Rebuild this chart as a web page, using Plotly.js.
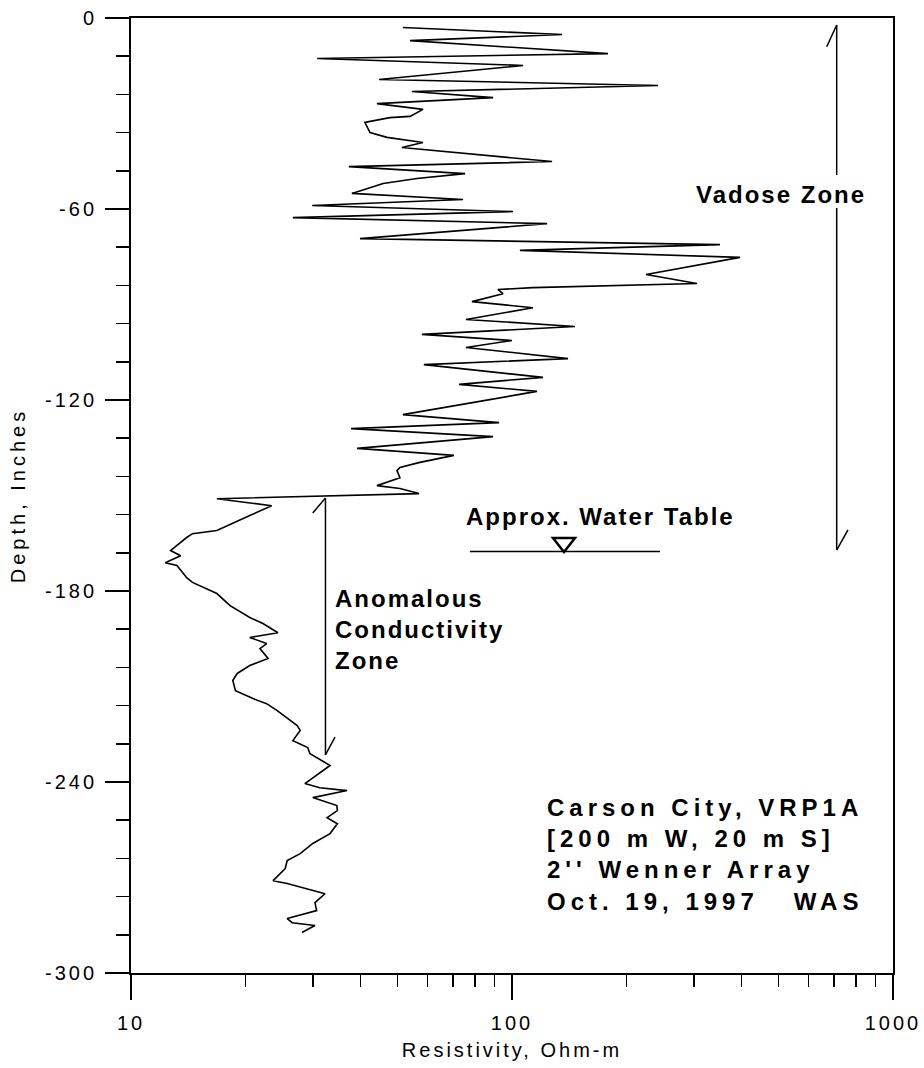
<!DOCTYPE html>
<html><head><meta charset="utf-8">
<script src="https://cdn.plot.ly/plotly-3.0.1.min.js"></script>
<style>html,body{margin:0;padding:0;background:#fff}</style>
</head><body><div id="chart" style="width:924px;height:1068px"></div>
<script>
// Resistivity (Ohm-m) vs depth (inches)
const resistivity = [
 51.7,135.3,54.0,178.6,30.8,106.9,44.8,241.6,54.6,89.2,
 44.2,58.4,54.0,47.8,41.1,42.4,47.0,55.0,58.4,51.4,
 127.4,37.3,75.3,56.3,45.9,38.0,74.4,29.9,100.6,26.6,
 123.6,39.9,351.5,104.9,396.7,224.8,305.9,113.5,91.9,94.7,
 78.5,113.5,75.7,146.3,58.0,100.0,75.7,140.3,58.7,120.6,
 72.6,116.3,51.7,92.5,37.8,89.2,39.2,70.4,57.3,50.8,
 49.9,50.8,44.2,50.8,57.0,16.8,23.4,20.5,18.5,16.8,
 14.5,14.0,13.2,12.7,13.5,12.3,13.2,13.6,14.0,14.5,
 16.8,18.2,20.5,22.2,24.3,20.5,22.7,21.8,22.9,20.5,
 19.0,18.5,18.8,20.9,22.7,24.2,25.7,27.3,27.8,26.6,
 29.1,29.5,33.3,28.6,31.3,36.9,30.0,34.7,34.8,32.7,
 34.8,33.3,30.0,27.8,25.7,25.4,23.6,25.7,32.3,30.4,
 30.7,25.7,26.5,30.4,28.1
];
const depth = [
 -3.0,-5.2,-7.1,-11.2,-12.7,-14.9,-19.3,-21.2,-23.1,-25.0,
 -26.9,-28.7,-30.9,-31.3,-32.8,-36.0,-37.5,-38.5,-39.1,-40.7,
 -45.1,-46.7,-48.9,-50.4,-52.0,-55.1,-57.0,-58.9,-60.8,-62.7,
 -64.6,-69.3,-71.2,-73.0,-75.2,-80.6,-83.4,-84.7,-85.3,-86.6,
 -89.1,-91.0,-94.7,-96.9,-99.4,-101.3,-103.5,-107.0,-108.9,-112.9,
 -115.1,-117.3,-124.6,-127.1,-129.0,-131.5,-135.2,-137.4,-139.6,-141.2,
 -142.2,-144.4,-146.9,-147.8,-149.4,-151.0,-153.2,-156.3,-158.8,-161.0,
 -162.0,-163.2,-165.7,-167.3,-168.9,-171.1,-172.0,-173.9,-175.8,-177.3,
 -180.8,-184.6,-188.3,-190.2,-193.1,-194.6,-196.5,-198.1,-201.2,-203.4,
 -205.9,-208.1,-211.3,-213.8,-215.4,-217.6,-219.8,-222.3,-223.8,-227.0,
 -229.2,-231.1,-234.8,-240.5,-241.8,-242.7,-244.9,-247.4,-249.0,-251.2,
 -253.1,-256.2,-259.3,-262.5,-264.7,-267.2,-271.0,-271.9,-275.1,-277.9,
 -280.4,-282.9,-284.2,-285.1,-287.3
];
const xTickVals = [10, 100, 1000];
const xTickLabels = ['10', '100', '1000'];
const xMinorVals = [20,30,40,50,60,70,80,90,200,300,400,500,600,700,800,900];
const yTickVals = [0, -60, -120, -180, -240, -300];
const yTickLabels = ['0', '-60', '-120', '-180', '-240', '-300'];
const xTitle = 'Resistivity, Ohm-m';
const yTitle = 'Depth, Inches';
const vadoseLabel = 'Vadose Zone';
const waterLabel = 'Approx. Water Table';
const anomalousLines = ['Anomalous', 'Conductivity', 'Zone'];
const infoLines = ['Carson City, VRP1A', '[200 m W, 20 m S]', '2\'\' Wenner Array', 'Oct. 19, 1997\u00a0\u00a0\u00a0WAS'];

const sp = (t, ls) => '<span style="letter-spacing:' + ls + 'px">' + t + '</span>';
const FAM = 'Liberation Sans, Arial, sans-serif';
const black = '#000';

const trace = {
  x: resistivity, y: depth, type: 'scatter', mode: 'lines',
  line: {color: black, width: 1.6}, hoverinfo: 'skip', showlegend: false
};
// empty trace so the overlaying minor-tick axis gets drawn
const minorAxisTrace = {x: [], y: [], xaxis: 'x2', yaxis: 'y', type: 'scatter', mode: 'lines',
  showlegend: false, hoverinfo: 'skip'};

const ln = (x0, y0, x1, y1, w) => ({type: 'line', xref: 'paper', yref: 'paper',
  x0: x0, y0: y0, x1: x1, y1: y1, line: {color: black, width: w || 1.5}});

const shapes = [
  ln(0.9261, 0.9927, 0.9261, 0.8356),
  ln(0.9261, 0.8010, 0.9261, 0.4429),
  ln(0.9261, 0.9927, 0.9130, 0.9699),
  ln(0.9261, 0.4429, 0.9409, 0.4639),
  ln(0.2552, 0.4974, 0.2552, 0.2283),
  ln(0.2552, 0.4974, 0.2385, 0.4817),
  ln(0.2552, 0.2283, 0.2677, 0.2471),
  ln(0.4449, 0.4414, 0.6942, 0.4414),
  {type: 'path', xref: 'paper', yref: 'paper',
   path: 'M0.5538,0.4555 L0.5827,0.4555 L0.5682,0.4408 Z',
   line: {color: black, width: 2.5}}
];

const boldFont = {family: FAM, size: 24, color: black, weight: 'bold'};
const annotations = [
  {xref: 'paper', yref: 'paper', x: 0.8524, y: 0.8157, xanchor: 'center', yanchor: 'middle',
   text: sp(vadoseLabel, 2), showarrow: false, font: boldFont},
  {xref: 'paper', yref: 'paper', x: 0.6155, y: 0.4775, xanchor: 'center', yanchor: 'middle',
   text: sp(waterLabel, 2), showarrow: false, font: boldFont},
  {xref: 'paper', yref: 'paper', x: 0.2651, y: 0.3592, xanchor: 'left', yanchor: 'middle', align: 'left',
   text: anomalousLines.map(t => sp(t, 2)).join('<br>'), showarrow: false, font: boldFont},
  {xref: 'paper', yref: 'paper', x: 0.5433, y: 0.1236, xanchor: 'left', yanchor: 'middle', align: 'left',
   text: infoLines.map(t => sp(t, 5)).join('<br>'), showarrow: false, font: boldFont}
];

const axisCommon = {
  showline: true, linewidth: 2, linecolor: black, mirror: true,
  showgrid: false, zeroline: false, ticks: 'outside', tickcolor: black, tickwidth: 1.5,
  tickfont: {family: FAM, size: 20, color: black}
};

const layout = {
  width: 924, height: 1068,
  margin: {l: 131, r: 31, t: 18, b: 95},
  paper_bgcolor: '#fff', plot_bgcolor: '#fff',
  showlegend: false,
  xaxis: Object.assign({}, axisCommon, {
    type: 'log', range: [1, 3], tickmode: 'array', tickvals: xTickVals,
    ticktext: xTickLabels.map(t => sp(t, 3)), ticklen: 25, ticklabelstandoff: 6,
    title: {text: sp(xTitle, 3), font: {family: FAM, size: 20, color: black}, standoff: 10}
  }),
  xaxis2: {
    type: 'log', range: [1, 3], overlaying: 'x', anchor: 'y', side: 'bottom',
    tickmode: 'array', tickvals: xMinorVals, ticks: 'outside', ticklen: 13,
    tickwidth: 1.5, tickcolor: black, showticklabels: false,
    showline: false, showgrid: false, zeroline: false
  },
  yaxis: Object.assign({}, axisCommon, {
    range: [-300, 0], tickmode: 'array', tickvals: yTickVals,
    ticktext: yTickLabels.map(t => sp(t, 3)), ticklen: 24, ticklabelstandoff: 4,
    minor: {dtick: 12, ticks: 'outside', ticklen: 13, tickwidth: 1.5, tickcolor: black, showgrid: false},
    title: {text: sp(yTitle, 4), font: {family: FAM, size: 20, color: black}, standoff: 14}
  }),
  shapes: shapes,
  annotations: annotations
};

Plotly.newPlot('chart', [trace, minorAxisTrace], layout, {displayModeBar: false, staticPlot: true});
</script></body></html>
